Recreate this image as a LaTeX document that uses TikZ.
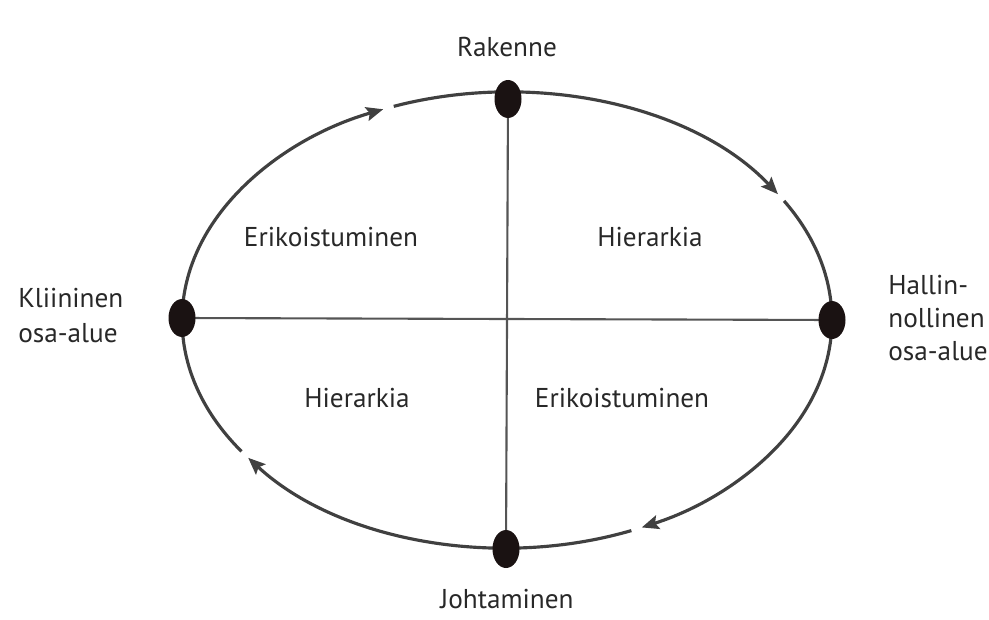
\documentclass[tikz,border=0pt]{standalone}
\usepackage{fontspec}
\setmainfont{PT Sans}
\usetikzlibrary{arrows.meta,calc,shapes.geometric}
\definecolor{linegray}{HTML}{404040}
\definecolor{axisgray}{HTML}{555555}
\definecolor{txtgray}{HTML}{282828}
\definecolor{dotblack}{HTML}{1A1212}
\begin{document}
\begin{tikzpicture}[x=0.02cm,y=0.02cm,
  ring/.style={draw=linegray,line width=1.8pt,-{Stealth[length=0.34cm,width=0.28cm,inset=0.06cm]}},
  axisline/.style={draw=axisgray,line width=1.2pt},
  dot/.style={ellipse,fill=dotblack,minimum width=0.54cm,minimum height=0.76cm,inner sep=0pt},
  lbl/.style={text=txtgray,font=\fontsize{15.5}{19}\selectfont,inner sep=0pt},
]
\useasboundingbox (0,0) rectangle (989,619);
\coordinate (C) at (507,299);
\coordinate (cT) at (508,520);
\coordinate (cB) at (506,70);
\coordinate (cL) at (182,301);
\coordinate (cR) at (832,299);
% axes
\draw[axisline] (cL) -- (cR);
\draw[axisline] (cT) -- (cB);
% ellipse with arrows (clockwise)
\draw[ring] (C) ++(215.2:6.5cm and 4.56cm) arc[start angle=215.2,end angle=112.4,x radius=6.5cm,y radius=4.56cm];
\draw[ring] (C) ++(110.4:6.5cm and 4.56cm) arc[start angle=110.4,end angle=33.5,x radius=6.5cm,y radius=4.56cm];
\draw[ring] (C) ++(31.5:6.5cm and 4.56cm) arc[start angle=31.5,end angle=-65.5,x radius=6.5cm,y radius=4.56cm];
\draw[ring] (C) ++(-67.5:6.5cm and 4.56cm) arc[start angle=-67.5,end angle=-142.8,x radius=6.5cm,y radius=4.56cm];
% dots
\node[dot] (T) at (cT) {};
\node[dot] (B) at (cB) {};
\node[dot] (L) at (cL) {};
\node[dot] (R) at (cR) {};
% labels
\node[lbl,anchor=base] (rak) at (507,562) {Rakenne};
\node[lbl,anchor=base] (joh) at (507,11) {Johtaminen};
\node[lbl,anchor=base] (eri1) at (331,372) {Erikoistuminen};
\node[lbl,anchor=base] (hie1) at (650,372) {Hierarkia};
\node[lbl,anchor=base] (hie2) at (357,212) {Hierarkia};
\node[lbl,anchor=base] (eri2) at (622,212) {Erikoistuminen};
\node[lbl,anchor=base west,align=left,font=\fontsize{15.5}{19.8}\selectfont] (kli) at (18,277) {Kliininen\\osa-alue};
\node[lbl,anchor=base west,align=left,font=\fontsize{15.5}{18.7}\selectfont] (hal) at (888,259) {Hallin-\\nollinen\\osa-alue};
\end{tikzpicture}
\end{document}
